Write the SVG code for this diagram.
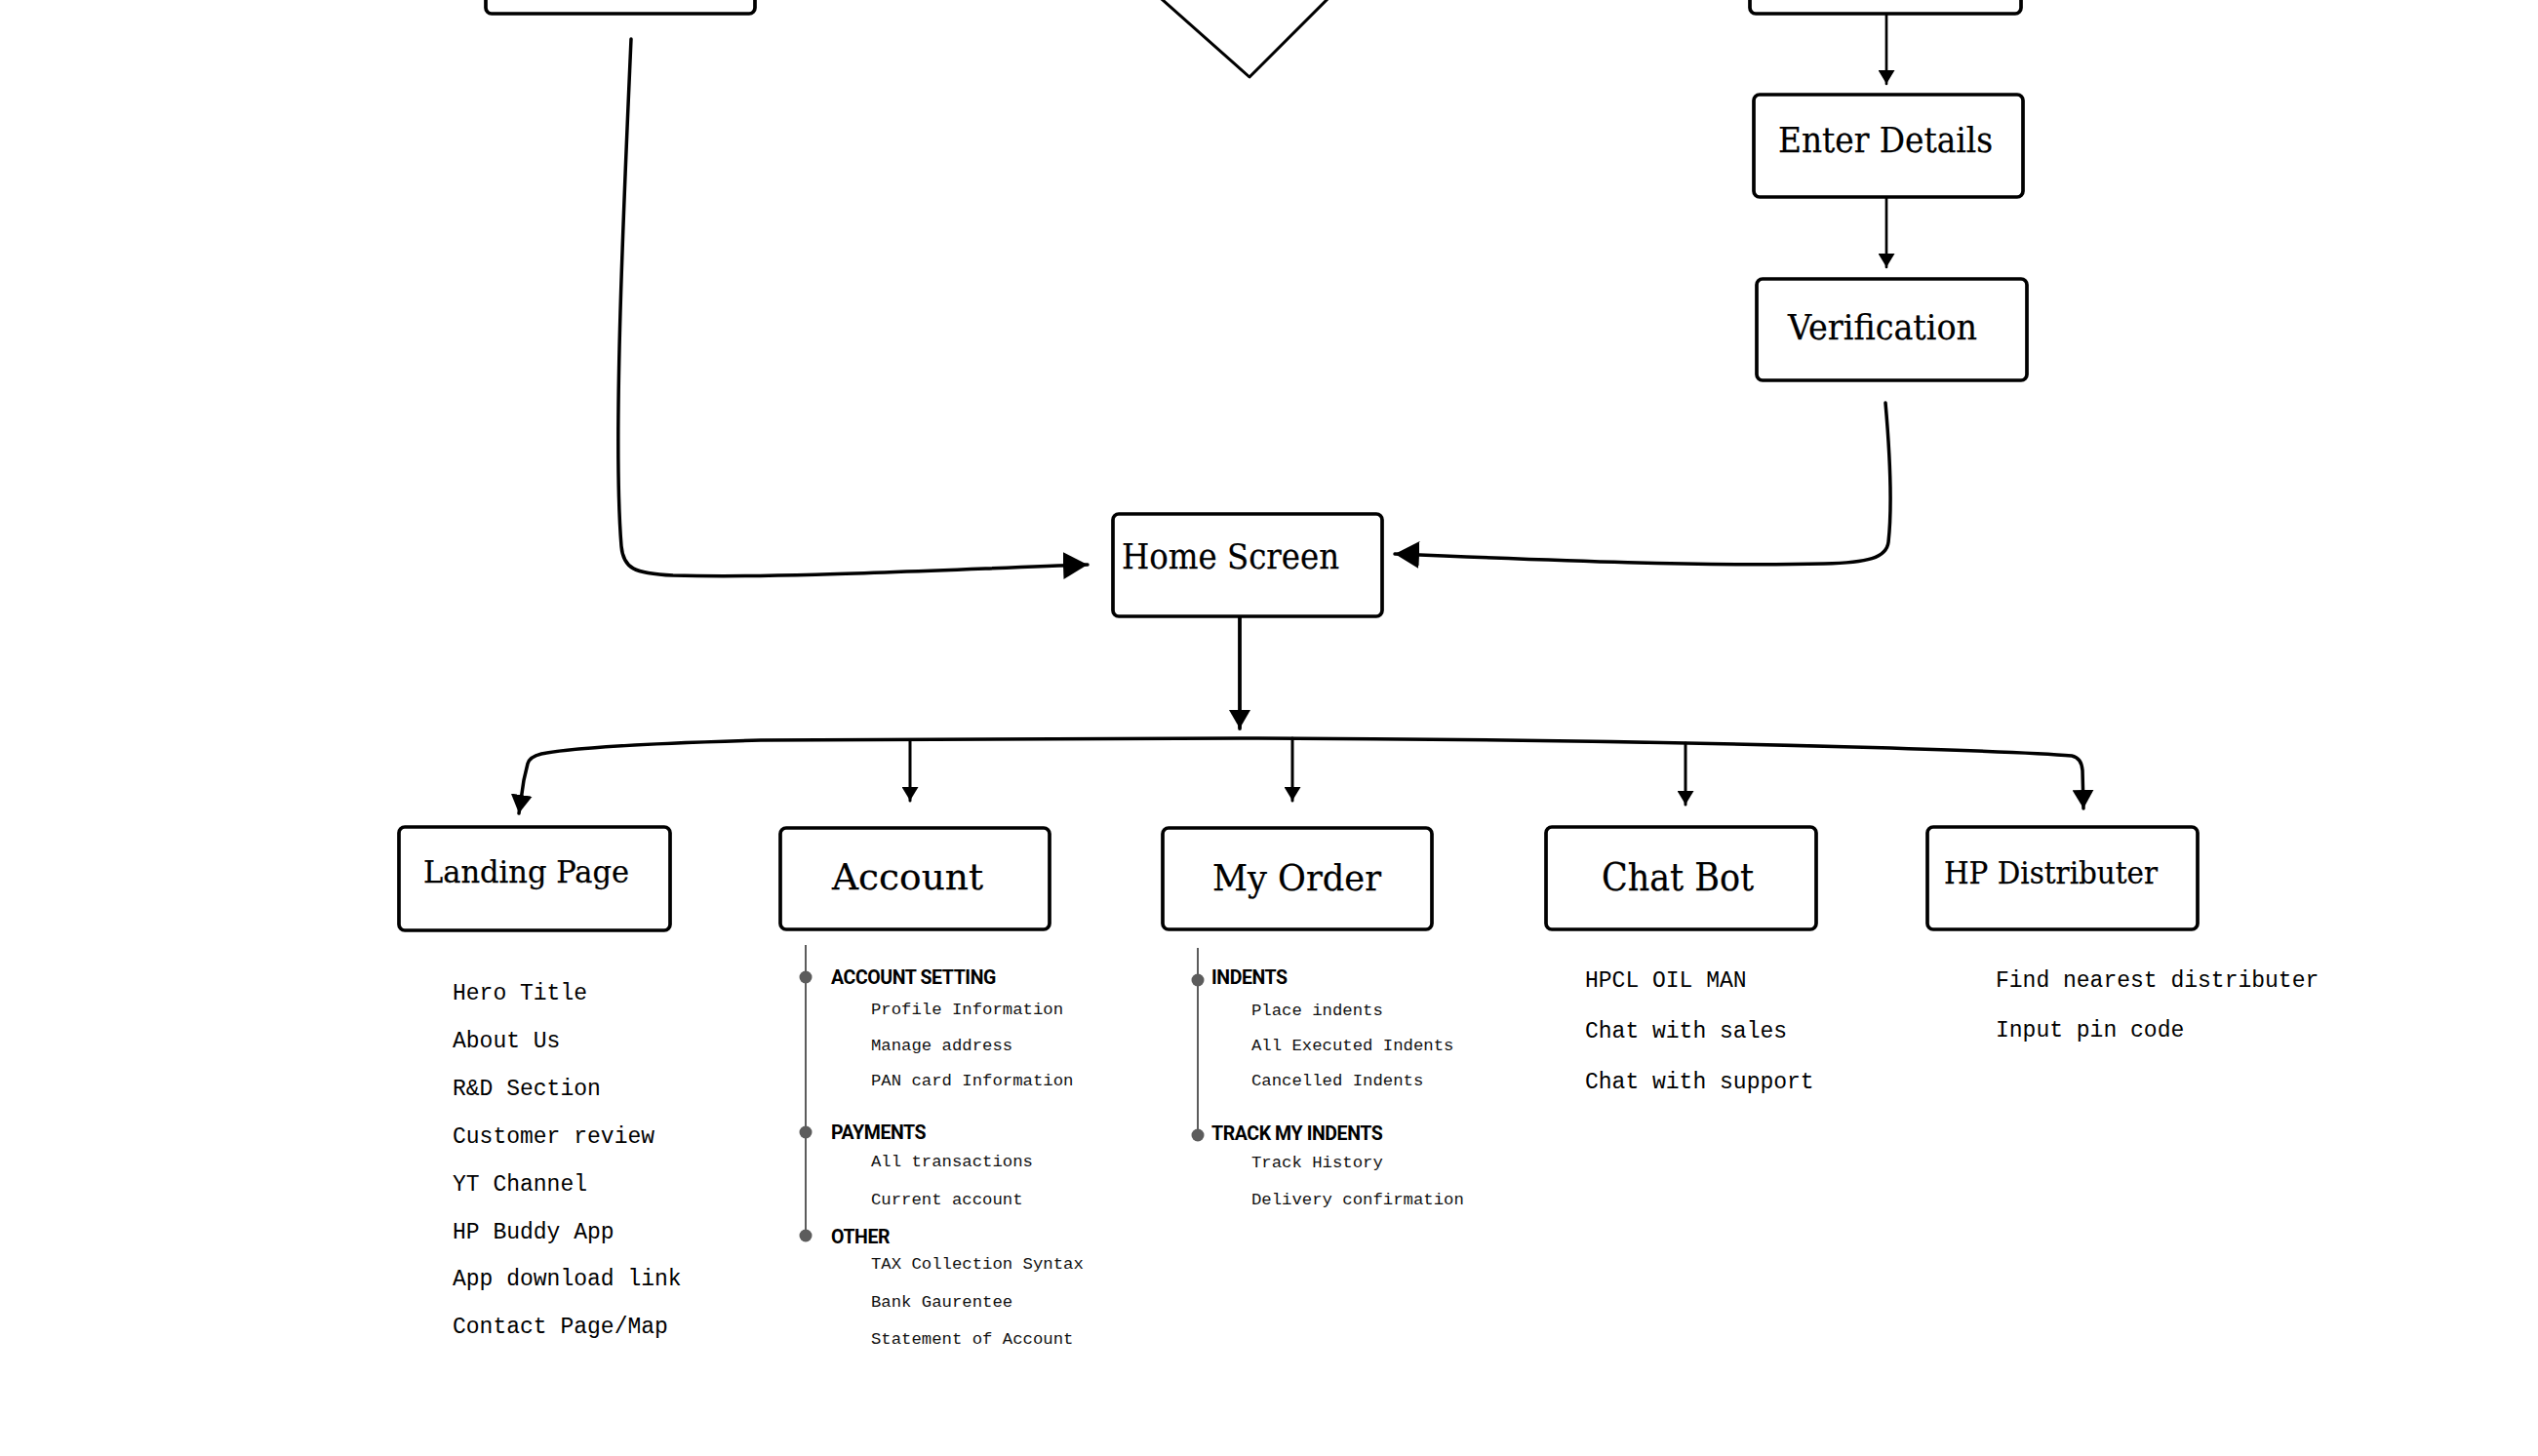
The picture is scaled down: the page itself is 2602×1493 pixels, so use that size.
<svg xmlns="http://www.w3.org/2000/svg" width="2602" height="1493" viewBox="0 0 2602 1493">
<style>
.box{fill:#fff;stroke:#000;stroke-width:3.7}
.ttl{font-family:"DejaVu Serif","Liberation Serif",serif;fill:#000;stroke:#000;stroke-width:0.25}
.lst{font-family:"Liberation Mono","DejaVu Sans Mono",monospace;font-size:23px;fill:#000}
.sub{font-family:"Liberation Mono","DejaVu Sans Mono",monospace;font-size:17.3px;fill:#111}
.hdr{font-family:Roboto,"Liberation Sans",sans-serif;font-weight:700;font-size:19.5px;letter-spacing:-0.4px;fill:#000}
.tl{stroke:#5c5c5c;stroke-width:2;fill:none}
.dot{fill:#5c5c5c}
.c{fill:none;stroke:#000;stroke-linecap:round;stroke-linejoin:round}
</style>
<defs>
<marker id="aS" markerUnits="userSpaceOnUse" markerWidth="14" markerHeight="17" viewBox="0 0 14 17" refX="14" refY="8.5" orient="auto"><path d="M0,0 L14,8.5 L0,17 z" fill="#000"/></marker>
<marker id="aB" markerUnits="userSpaceOnUse" markerWidth="19" markerHeight="22" viewBox="0 0 19 22" refX="19" refY="11" orient="auto-start-reverse"><path d="M0,0 L19,11 L0,22 z" fill="#000"/></marker>
<marker id="aH" markerUnits="userSpaceOnUse" markerWidth="25" markerHeight="28" viewBox="0 0 25 28" refX="25" refY="14" orient="auto"><path d="M0,0 L25,14 L0,28 z" fill="#000"/></marker>
</defs>
<rect width="2602" height="1493" fill="#fff"/>

<g id="connectors">
<path class="c" stroke-width="3.5" d="M647 40 C640 200 628 450 637 560 C639 583 650 588 690 590 C800 593 950 585 1115 579" marker-end="url(#aH)"/>
<path class="c" stroke-width="3.5" d="M1933 413 C1938 470 1940 520 1936 556 C1934 572 1915 577 1870 578 C1750 581 1600 575 1430 568" marker-end="url(#aH)"/>
<path class="c" stroke-width="2.7" d="M1934 14 L1934 86" marker-end="url(#aS)"/>
<path class="c" stroke-width="2.7" d="M1934 202 L1934 274" marker-end="url(#aS)"/>
<path class="c" stroke-width="3.8" d="M1271 632 L1271 747" marker-end="url(#aB)"/>
<path class="c" stroke-width="3.5" d="M532 834 L537 800 L541 783 Q543 776 555 773 Q600 764 780 759 L1290 757 Q1600 758 1900 766 Q2080 771 2124 775 Q2134 777 2135 790 L2136 829" marker-start="url(#aB)" marker-end="url(#aB)"/>
<path class="c" stroke-width="3" d="M933 759 L933 821" marker-end="url(#aS)"/>
<path class="c" stroke-width="3" d="M1325 757 L1325 821" marker-end="url(#aS)"/>
<path class="c" stroke-width="3" d="M1728 762 L1728 825" marker-end="url(#aS)"/>
</g>

<g id="node-top-left"><rect class="box" x="498" y="-90" width="276" height="104" rx="6"/></g>
<g id="node-decision"><polygon points="1281,-239 1440,-80 1281,79 1103,-79" fill="#fff" stroke="#000" stroke-width="3" stroke-linejoin="round"/></g>
<g id="node-top-right"><rect class="box" x="1794" y="-90" width="278" height="104" rx="6"/></g>

<g id="node-enter-details"><rect class="box" x="1798" y="97" width="276" height="105" rx="6"/>
<text class="ttl" x="1823" y="156" font-size="35" textLength="220" lengthAdjust="spacingAndGlyphs">Enter Details</text></g>
<g id="node-verification"><rect class="box" x="1801" y="286" width="277" height="104" rx="6"/>
<text class="ttl" x="1833" y="348" font-size="35" textLength="194" lengthAdjust="spacingAndGlyphs">Verification</text></g>
<g id="node-home"><rect class="box" x="1141" y="527" width="276" height="105" rx="6"/>
<text class="ttl" x="1150" y="583" font-size="35" textLength="223" lengthAdjust="spacingAndGlyphs">Home Screen</text></g>

<g id="node-landing"><rect class="box" x="409" y="848" width="278" height="106" rx="6"/>
<text class="ttl" x="434" y="905" font-size="31" textLength="211" lengthAdjust="spacingAndGlyphs">Landing Page</text>
<text class="lst" x="464" y="1025">Hero Title</text>
<text class="lst" x="464" y="1074">About Us</text>
<text class="lst" x="464" y="1123">R&amp;D Section</text>
<text class="lst" x="464" y="1172">Customer review</text>
<text class="lst" x="464" y="1221">YT Channel</text>
<text class="lst" x="464" y="1270">HP Buddy App</text>
<text class="lst" x="464" y="1318">App download link</text>
<text class="lst" x="464" y="1367">Contact Page/Map</text>
</g>

<g id="node-account"><rect class="box" x="800" y="849" width="276" height="104" rx="6"/>
<text class="ttl" x="853" y="912" font-size="38" textLength="155" lengthAdjust="spacingAndGlyphs">Account</text>
<line class="tl" x1="826" y1="969" x2="826" y2="1267"/>
<circle class="dot" cx="826" cy="1002" r="6.5"/>
<circle class="dot" cx="826" cy="1161" r="6.5"/>
<circle class="dot" cx="826" cy="1267" r="6.5"/>
<text class="hdr" x="852" y="1009">ACCOUNT SETTING</text>
<text class="sub" x="893" y="1040">Profile Information</text>
<text class="sub" x="893" y="1077">Manage address</text>
<text class="sub" x="893" y="1113">PAN card Information</text>
<text class="hdr" x="852" y="1168">PAYMENTS</text>
<text class="sub" x="893" y="1196">All transactions</text>
<text class="sub" x="893" y="1235">Current account</text>
<text class="hdr" x="852" y="1275">OTHER</text>
<text class="sub" x="893" y="1301">TAX Collection Syntax</text>
<text class="sub" x="893" y="1340">Bank Gaurentee</text>
<text class="sub" x="893" y="1378">Statement of Account</text>
</g>

<g id="node-my-order"><rect class="box" x="1192" y="849" width="276" height="104" rx="6"/>
<text class="ttl" x="1243" y="913" font-size="38" textLength="173" lengthAdjust="spacingAndGlyphs">My Order</text>
<line class="tl" x1="1228" y1="972" x2="1228" y2="1164"/>
<circle class="dot" cx="1228" cy="1005" r="6.5"/>
<circle class="dot" cx="1228" cy="1164" r="6.5"/>
<text class="hdr" x="1242" y="1009">INDENTS</text>
<text class="sub" x="1283" y="1041">Place indents</text>
<text class="sub" x="1283" y="1077">All Executed Indents</text>
<text class="sub" x="1283" y="1113">Cancelled Indents</text>
<text class="hdr" x="1242" y="1169">TRACK MY INDENTS</text>
<text class="sub" x="1283" y="1197">Track History</text>
<text class="sub" x="1283" y="1235">Delivery confirmation</text>
</g>

<g id="node-chat-bot"><rect class="box" x="1585" y="848" width="277" height="105" rx="6"/>
<text class="ttl" x="1642" y="913" font-size="39" textLength="156" lengthAdjust="spacingAndGlyphs">Chat Bot</text>
<text class="lst" x="1625" y="1012">HPCL OIL MAN</text>
<text class="lst" x="1625" y="1064">Chat with sales</text>
<text class="lst" x="1625" y="1116">Chat with support</text>
</g>

<g id="node-hp-distributer"><rect class="box" x="1976" y="848" width="277" height="105" rx="6"/>
<text class="ttl" x="1993" y="906" font-size="31" textLength="219" lengthAdjust="spacingAndGlyphs">HP Distributer</text>
<text class="lst" x="2046" y="1012">Find nearest distributer</text>
<text class="lst" x="2046" y="1063">Input pin code</text>
</g>
</svg>
